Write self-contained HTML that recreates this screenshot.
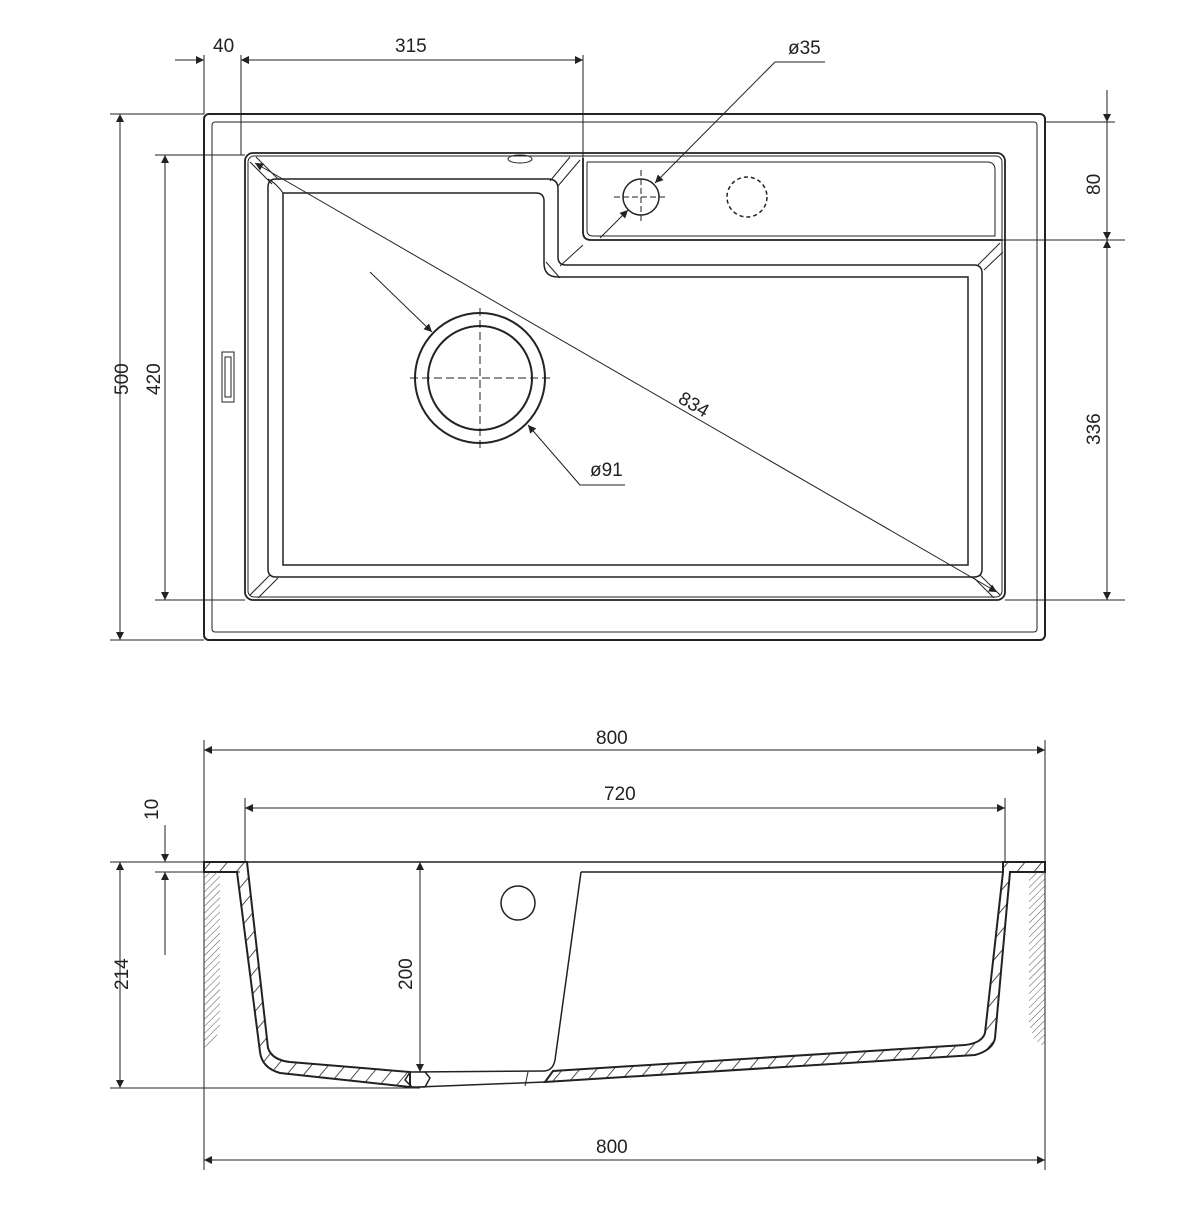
<!DOCTYPE html>
<html><head><meta charset="utf-8"><style>
html,body{margin:0;padding:0;background:#fff;}
svg text{font-family:"Liberation Sans",sans-serif;font-size:19px;fill:#222;}
</style></head><body>
<svg width="1200" height="1200" viewBox="0 0 1200 1200" xmlns="http://www.w3.org/2000/svg">
<defs>
<marker id="a" viewBox="0 0 10 10" refX="10" refY="5" markerWidth="14" markerHeight="8" orient="auto-start-reverse" markerUnits="userSpaceOnUse"><path d="M0,0 L10,5 L0,10 z" fill="#222"/></marker>
<pattern id="h" width="5" height="5" patternUnits="userSpaceOnUse" patternTransform="rotate(45)"><line x1="0" y1="0" x2="0" y2="5" stroke="#555" stroke-width="1"/></pattern>
<pattern id="w" width="13" height="13" patternUnits="userSpaceOnUse" patternTransform="rotate(40)"><line x1="0" y1="0" x2="0" y2="13" stroke="#222" stroke-width="1.6"/></pattern>
</defs>
<g fill="none" stroke="#222" stroke-width="1">
<!-- top view outer -->
<rect x="204" y="114" width="841" height="526" rx="5" stroke-width="2"/>
<rect x="212" y="122" width="825" height="510" rx="3"/>
<!-- extension lines -->
<line x1="204" y1="55" x2="204" y2="114"/>
<line x1="241" y1="55" x2="241" y2="155"/>
<line x1="583" y1="55" x2="583" y2="158"/>
<line x1="241" y1="60" x2="583" y2="60" marker-start="url(#a)" marker-end="url(#a)"/>
<line x1="175" y1="60" x2="204" y2="60" marker-end="url(#a)"/>
<line x1="268" y1="60" x2="241" y2="60" marker-end="url(#a)"/>
<!-- rim -->
<rect x="245" y="153" width="760" height="447" rx="8" stroke-width="1.8"/>
<rect x="248" y="156" width="754" height="441" rx="6"/>
<!-- shelf -->
<path d="M583,158 L583,232 Q583,240 591,240 L1002,240" stroke-width="1.8"/>
<path d="M587,162 L587,230 Q587,236 593,236 L995,236 L995,170 Q995,162 987,162 L587,162" />
<ellipse cx="520" cy="159" rx="12" ry="4"/>
<!-- slope top -->
<path d="M268,187 Q268,179 276,179 L548,179 Q558,179 558,189 L558,257 Q558,265 566,265 L974,265 Q982,265 982,273 L982,569 Q982,577 974,577 L276,577 Q268,577 268,569 Z" stroke-width="1.5"/>
<!-- slope bottom -->
<path d="M283,193 L536,193 Q544,193 544,201 L544,263 Q544,277 558,277 L968,277 L968,565 L283,565 Z" stroke-width="1.5"/>
<!-- corner bands -->
<path d="M250,162 L272,184 M256,157 L279,180"/>
<path d="M268,179 Q276,183 283,193 M268,179 Q278,185 283,193"/>
<path d="M570,157 L550,181 M580,160 L558,186"/>
<path d="M546,262 L560,278 M583,245 L560,266"/>
<path d="M1000,243 L978,265 M1003,252 L984,270"/>
<path d="M250,595 L270,575 M258,598 L278,578"/>
<path d="M1000,595 L980,575 M994,598 L974,578"/>
<rect x="222" y="352" width="12" height="50"/>
<rect x="225" y="357" width="6" height="40"/>
<!-- tap holes -->
<circle cx="641" cy="197" r="18" stroke-width="1.5"/>
<circle cx="747" cy="197" r="20" stroke-dasharray="4,3" stroke-width="1.5"/>
<line x1="641" y1="170" x2="641" y2="224" stroke-dasharray="6,3"/>
<line x1="614" y1="197" x2="668" y2="197" stroke-dasharray="6,3"/>
<line x1="775" y1="62" x2="825" y2="62"/>
<line x1="775" y1="62" x2="655" y2="183" marker-end="url(#a)"/>
<line x1="600" y1="238" x2="628" y2="210" marker-end="url(#a)"/>
<!-- drain -->
<circle cx="480" cy="378" r="65" stroke-width="2"/>
<circle cx="480" cy="378" r="52" stroke-width="2"/>
<line x1="480" y1="308" x2="480" y2="448" stroke-dasharray="8,4"/>
<line x1="410" y1="378" x2="550" y2="378" stroke-dasharray="8,4"/>
<line x1="370" y1="272" x2="432" y2="332" marker-end="url(#a)"/>
<line x1="580" y1="485" x2="528" y2="425" marker-end="url(#a)"/>
<line x1="580" y1="485" x2="625" y2="485"/>
<!-- diagonal 834 -->
<line x1="255" y1="163" x2="997" y2="592" marker-start="url(#a)" marker-end="url(#a)"/>
<!-- left dims -->
<line x1="110" y1="114" x2="204" y2="114"/>
<line x1="110" y1="640" x2="204" y2="640"/>
<line x1="120" y1="114" x2="120" y2="640" marker-start="url(#a)" marker-end="url(#a)"/>
<line x1="155" y1="155" x2="245" y2="155"/>
<line x1="155" y1="600" x2="245" y2="600"/>
<line x1="165" y1="155" x2="165" y2="600" marker-start="url(#a)" marker-end="url(#a)"/>
<!-- right dims -->
<line x1="1045" y1="122" x2="1115" y2="122"/>
<line x1="1002" y1="240" x2="1125" y2="240"/>
<line x1="1005" y1="600" x2="1125" y2="600"/>
<line x1="1107" y1="90" x2="1107" y2="122" marker-end="url(#a)"/>
<line x1="1107" y1="122" x2="1107" y2="240" marker-end="url(#a)"/>
<line x1="1107" y1="240" x2="1107" y2="600" marker-start="url(#a)" marker-end="url(#a)"/>
<!-- bottom view dims -->
<line x1="204" y1="740" x2="204" y2="1170"/>
<line x1="1045" y1="740" x2="1045" y2="1170"/>
<line x1="204" y1="750" x2="1045" y2="750" marker-start="url(#a)" marker-end="url(#a)"/>
<line x1="204" y1="1160" x2="1045" y2="1160" marker-start="url(#a)" marker-end="url(#a)"/>
<line x1="245" y1="798" x2="245" y2="862"/>
<line x1="1005" y1="798" x2="1005" y2="862"/>
<line x1="245" y1="808" x2="1005" y2="808" marker-start="url(#a)" marker-end="url(#a)"/>
<line x1="110" y1="862" x2="270" y2="862"/>
<line x1="110" y1="1088" x2="420" y2="1088"/>
<line x1="155" y1="872" x2="240" y2="872"/>
<line x1="120" y1="862" x2="120" y2="1088" marker-start="url(#a)" marker-end="url(#a)"/>
<line x1="165" y1="825" x2="165" y2="862" marker-end="url(#a)"/>
<line x1="165" y1="955" x2="165" y2="872" marker-end="url(#a)"/>
<line x1="420" y1="862" x2="420" y2="1072" marker-start="url(#a)" marker-end="url(#a)"/>
<!-- profile -->
<line x1="204" y1="862" x2="1045" y2="862" stroke-width="1.5"/>
<!-- left wall section -->
<path d="M204,862 L247,862 L268,1048 Q272,1060 290,1062 L410,1072 L410,1087 L280,1073 Q262,1068 260,1052 L237,872 L204,872 Z" fill="url(#w)" stroke-width="2"/>
<!-- right wall section -->
<path d="M1045,862 L1003,862 L1003,872 L985,1033 Q982,1043 965,1045 L553,1071 L545,1082 L975,1055 Q993,1050 995,1038 L1010,872 L1045,872 Z" fill="url(#w)" stroke-width="2"/>
<!-- drain gap -->
<path d="M410,1072 L545,1071 M418,1087 L545,1082 M410,1072 L405,1080 L412,1087 L425,1087 L430,1078 L425,1072" stroke-width="1.5"/>
<line x1="528" y1="1072" x2="525" y2="1086"/>
<!-- shelf inner -->
<path d="M581,872 L1003,872 M581,872 L555,1060 Q553,1070 545,1071" stroke-width="1.5"/>
<circle cx="518" cy="903" r="17" stroke-width="1.5"/>
<!-- flanges -->
<path d="M204,872 L220,872 L220,1028 L215,1040 L204,1048 Z" fill="url(#h)" stroke="none"/>
<path d="M1029,872 L1045,872 L1045,1048 L1035,1040 L1029,1025 Z" fill="url(#h)" stroke="none"/>
</g>
<text x="213" y="52">40</text>
<text x="395" y="52">315</text>
<text x="788" y="54">ø35</text>
<text x="590" y="476">ø91</text>
<text transform="translate(677,402) rotate(30)">834</text>
<text transform="translate(128,395) rotate(-90)">500</text>
<text transform="translate(160,395) rotate(-90)">420</text>
<text transform="translate(1100,195) rotate(-90)">80</text>
<text transform="translate(1100,445) rotate(-90)">336</text>
<text x="596" y="744">800</text>
<text x="604" y="800">720</text>
<text x="596" y="1153">800</text>
<text transform="translate(128,990) rotate(-90)">214</text>
<text transform="translate(158,820) rotate(-90)">10</text>
<text transform="translate(412,990) rotate(-90)">200</text>
</svg>
</body></html>
